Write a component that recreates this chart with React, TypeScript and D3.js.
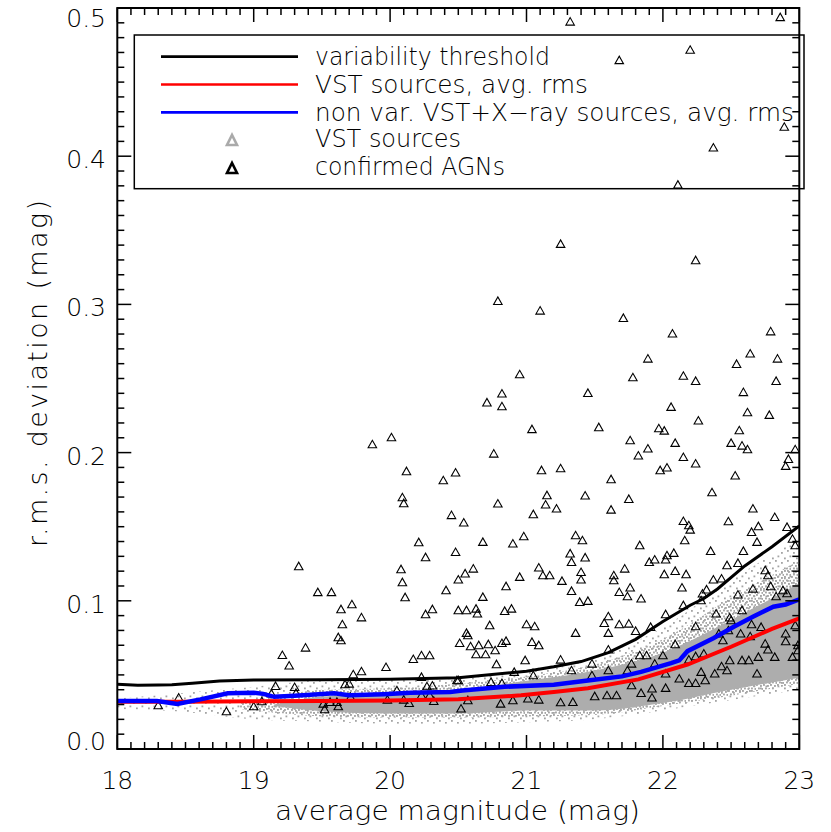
import React from 'react';
import * as d3 from 'd3';

const W = 831;
const H = 832;
const PLOT = { left: 117.3, right: 799.3, top: 8, bottom: 749 };

// ---------- axis ticks ----------
const xMajorTicks = [18, 19, 20, 21, 22, 23];
const xTickLabels = ['18', '19', '20', '21', '22', '23'];
const yMajorTicks = [0, 0.1, 0.2, 0.3, 0.4, 0.5];
const yTickLabels = ['0.0', '0.1', '0.2', '0.3', '0.4', '0.5'];

// ---------- curves ----------
const thresholdMag = [18.0, 18.15, 18.3, 18.4, 18.55, 18.75, 19.0, 19.5, 20.0, 20.5, 21.0, 21.2, 21.4, 21.6, 21.8, 22.0, 22.2, 22.3, 22.4, 22.6, 22.8, 23.0];
const thresholdRms = [0.0437, 0.0431, 0.0432, 0.0434, 0.0443, 0.0459, 0.0466, 0.0468, 0.047, 0.048, 0.0525, 0.0555, 0.059, 0.065, 0.074, 0.086, 0.097, 0.1015, 0.108, 0.1235, 0.1365, 0.1505];

const vstMag = [18.0, 18.5, 19.0, 19.5, 20.0, 20.5, 20.96, 21.2, 21.45, 21.82, 22.18, 22.5, 22.8, 23.0];
const vstRms = [0.0319, 0.0319, 0.0322, 0.0324, 0.0327, 0.0335, 0.0362, 0.0385, 0.041, 0.047, 0.057, 0.069, 0.081, 0.0882];

const nonVarMag = [18.0, 18.29, 18.44, 18.61, 18.81, 19.0, 19.07, 19.15, 19.3, 19.59, 19.7, 19.95, 20.15, 20.44, 20.53, 20.84, 21.2, 21.45, 21.7, 21.84, 22.06, 22.12, 22.18, 22.37, 22.52, 22.66, 22.81, 22.9, 23.0];
const nonVarRms = [0.0324, 0.0324, 0.0304, 0.0335, 0.0376, 0.038, 0.0372, 0.0352, 0.036, 0.0376, 0.0362, 0.037, 0.038, 0.0385, 0.0394, 0.042, 0.0433, 0.0462, 0.049, 0.052, 0.058, 0.0598, 0.066, 0.0747, 0.0825, 0.0893, 0.096, 0.0975, 0.101];

// ---------- VST source population (envelopes of the grey cloud) ----------
const cloudMag = [18.0, 18.5, 19.0, 19.3, 19.6, 20.0, 20.5, 21.0, 21.5, 22.0, 22.5, 23.0];
const cloudOuterLo = [0.027, 0.025, 0.02, 0.019, 0.018, 0.017, 0.017, 0.018, 0.02, 0.026, 0.033, 0.04];
const cloudOuterHi = [0.034, 0.038, 0.042, 0.045, 0.047, 0.047, 0.049, 0.054, 0.062, 0.082, 0.114, 0.142];
const cloudMidMag = [18.9, 19.2, 19.5, 20.0, 20.5, 21.0, 21.5, 22.0, 22.5, 23.0];
const cloudMidLo = [0.027, 0.024, 0.022, 0.021, 0.021, 0.022, 0.023, 0.029, 0.036, 0.044];
const cloudMidHi = [0.031, 0.036, 0.04, 0.041, 0.044, 0.049, 0.057, 0.074, 0.102, 0.127];
const cloudCoreMag = [19.15, 19.5, 20.0, 20.5, 21.0, 21.5, 22.0, 22.5, 23.0];
const cloudCoreLo = [0.029, 0.0255, 0.024, 0.024, 0.026, 0.026, 0.031, 0.04, 0.048];
const cloudCoreHi = [0.030, 0.0355, 0.037, 0.04, 0.046, 0.053, 0.065, 0.087, 0.112];

// ---------- confirmed AGNs [mag, rms] ----------
const agnHigh: [number, number][] = [
  [21.32, 0.491], [21.68, 0.465], [22.2, 0.472], [22.86, 0.494], [22.89, 0.42], [22.37, 0.406], [22.11, 0.381],
  [21.25, 0.341], [22.24, 0.33], [20.79, 0.3025], [21.1, 0.296], [21.71, 0.291], [22.07, 0.2805], [22.79, 0.282],
  [22.64, 0.267], [21.89, 0.2636], [22.84, 0.2636], [22.54, 0.26], [20.95, 0.253], [21.78, 0.251], [22.15, 0.252],
  [22.24, 0.2485], [22.83, 0.2485], [22.59, 0.241], [20.82, 0.24], [21.45, 0.2404], [20.71, 0.234], [20.82, 0.2314],
  [22.06, 0.231], [22.62, 0.2274], [22.78, 0.2256], [22.26, 0.2218], [21.04, 0.216], [21.53, 0.2173], [21.97, 0.2166],
  [22.01, 0.215], [22.56, 0.2152], [21.76, 0.2085], [22.09, 0.2067], [22.5, 0.2067], [22.58, 0.2049], [22.62, 0.2024],
  [22.97, 0.2024], [20.76, 0.1995], [21.89, 0.2029], [21.82, 0.1982], [22.15, 0.1972], [22.92, 0.1959], [22.24, 0.1928],
  [22.9, 0.1912], [20.48, 0.1867], [21.11, 0.1883], [21.25, 0.1896], [21.98, 0.1883], [22.03, 0.1901], [21.62, 0.1822],
  [22.53, 0.1847], [22.36, 0.1734], [21.15, 0.1714], [21.43, 0.1712], [21.75, 0.1689], [20.79, 0.1658], [21.14, 0.1651],
  [21.22, 0.1624], [21.62, 0.1617], [22.66, 0.1624],
];

const agnLeft: [number, number][] = [
  [18.3, 0.0297], [18.45, 0.0349], [18.8, 0.0256], [19.0, 0.029], [19.06, 0.0324], [19.21, 0.0636], [19.26, 0.0565],
  [19.38, 0.0686], [19.64, 0.0735], [19.13, 0.0376], [19.16, 0.0427], [19.3, 0.042], [19.31, 0.038], [19.51, 0.0308],
  [19.52, 0.027], [19.56, 0.0319], [19.61, 0.0319], [19.62, 0.029], [19.67, 0.0439], [19.7, 0.0443], [19.73, 0.0506],
  [19.79, 0.0526], [19.71, 0.0353], [19.97, 0.0555], [19.98, 0.0335], [20.05, 0.0398], [20.1, 0.0335], [20.14, 0.0312],
  [20.17, 0.0609], [20.23, 0.0634], [20.29, 0.0634], [20.23, 0.0488], [20.27, 0.0425], [20.31, 0.043], [20.29, 0.0364],
  [20.32, 0.0326], [20.23, 0.0364], [20.49, 0.0466], [20.52, 0.0275],
  [19.33, 0.1235], [19.47, 0.106], [19.57, 0.106], [19.64, 0.0945], [19.72, 0.0978], [19.65, 0.0843], [19.62, 0.0756],
  [19.79, 0.089], [19.87, 0.2058], [20.01, 0.2105], [20.12, 0.1876], [20.09, 0.17], [20.1, 0.166], [20.21, 0.1397],
  [20.26, 0.1296], [20.08, 0.1215], [20.09, 0.1127], [20.11, 0.1026], [20.31, 0.0945], [20.26, 0.0911], [20.41, 0.1073],
  [20.39, 0.1815], [20.45, 0.158],
];

const agnBand: [number, number][] = [
  [21.05, 0.1586], [20.54, 0.153], [22.82, 0.1567], [22.48, 0.1538], [22.15, 0.154], [22.19, 0.1511], [22.2, 0.1482],
  [22.7, 0.1505], [22.65, 0.1466], [22.91, 0.15], [20.68, 0.1399], [20.9, 0.1388], [20.98, 0.1437], [21.36, 0.1444],
  [21.41, 0.141], [21.83, 0.1377], [22.16, 0.141], [22.69, 0.1399], [22.35, 0.1338], [22.59, 0.1338], [21.32, 0.1321],
  [21.33, 0.1264], [21.43, 0.1294], [21.9, 0.1264], [21.94, 0.128], [22.02, 0.128], [22.03, 0.1309], [22.08, 0.1325],
  [22.47, 0.1242], [22.55, 0.1257], [20.48, 0.1331], [20.61, 0.1219], [20.55, 0.1186], [20.5, 0.1145], [21.09, 0.1226],
  [21.12, 0.1174], [21.17, 0.1174], [20.95, 0.1163], [21.26, 0.1136], [21.4, 0.1196], [21.4, 0.1145], [21.64, 0.1174],
  [21.64, 0.114], [21.72, 0.1219], [22.01, 0.1181], [22.09, 0.1203], [22.17, 0.1181], [22.37, 0.1145], [22.43, 0.1152],
  [22.75, 0.1208], [22.77, 0.1174], [20.85, 0.11], [20.68, 0.1028], [21.33, 0.1068], [21.68, 0.1061], [21.74, 0.1032],
  [21.76, 0.1091], [21.84, 0.1017], [22.14, 0.1091], [22.32, 0.1078], [22.29, 0.1051], [22.55, 0.1044], [22.66, 0.1084],
  [22.79, 0.11], [22.83, 0.1032], [22.88, 0.1073], [22.91, 0.1053], [21.39, 0.0994], [21.45, 0.1001], [20.5, 0.0938],
  [20.56, 0.0938], [20.64, 0.0916], [20.84, 0.0933], [20.89, 0.0949], [20.63, 0.0949], [22.15, 0.0972], [22.28, 0.1005],
  [22.39, 0.0916], [22.58, 0.0938], [22.02, 0.0911], [21.6, 0.0897], [21.57, 0.0852], [21.68, 0.0843], [21.75, 0.0848],
  [21.8, 0.0798], [21.91, 0.0825], [20.73, 0.0837], [21.0, 0.0843], [21.06, 0.083], [21.36, 0.0785], [21.6, 0.0785],
  [22.24, 0.083], [22.49, 0.0889], [22.5, 0.087], [22.65, 0.0843], [22.72, 0.0825], [20.56, 0.0785], [20.57, 0.0769],
  [20.51, 0.0717], [20.59, 0.0695], [20.65, 0.0702], [20.72, 0.0709], [20.7, 0.0641], [20.77, 0.0668], [20.82, 0.0717],
  [20.85, 0.0731], [20.63, 0.0641], [21.04, 0.0724], [21.09, 0.0702], [20.99, 0.0601], [20.78, 0.0574], [21.25, 0.0605],
  [21.6, 0.0673], [21.83, 0.0634], [21.88, 0.0634], [22.0, 0.0634], [22.09, 0.0709], [22.24, 0.0628], [22.41, 0.0781],
  [22.44, 0.0735], [22.48, 0.0803], [22.57, 0.0781], [22.64, 0.0762], [22.75, 0.0713], [22.77, 0.0673], [22.82, 0.0623],
  [22.9, 0.0781], [22.97, 0.0837], [22.7, 0.0623], [22.49, 0.0601], [22.58, 0.0601], [21.48, 0.0578], [21.77, 0.0578],
  [21.94, 0.0578], [22.3, 0.0646], [22.19, 0.0605], [21.33, 0.0533], [21.6, 0.0533], [21.74, 0.0533], [20.5, 0.0466],
  [20.74, 0.0454], [20.82, 0.0447], [20.91, 0.0522], [21.05, 0.0499], [21.48, 0.0499], [22.02, 0.0511], [22.12, 0.0477],
  [22.19, 0.0447], [22.24, 0.0447], [22.28, 0.0522], [22.31, 0.0466], [22.38, 0.0511], [22.43, 0.056], [22.47, 0.0533],
  [22.63, 0.0601], [22.69, 0.0511], [22.9, 0.0729], [22.99, 0.0702], [20.57, 0.0331], [20.81, 0.0308], [20.9, 0.0331],
  [21.01, 0.0342], [21.09, 0.0335], [21.25, 0.0317], [21.34, 0.0319], [21.5, 0.0358], [21.66, 0.0364], [21.84, 0.038],
  [21.92, 0.0349], [21.92, 0.041], [22.02, 0.0414], [21.59, 0.0364], [21.77, 0.0432], [22.95, 0.142], [22.97, 0.1377],
  [22.99, 0.0668], [22.95, 0.0623],
];

// ---------- legend ----------
const legendLines = [
  { label: 'variability threshold', color: '#000000', width: 235 },
  { label: 'VST sources, avg. rms', color: '#ff0000', width: 273 },
  { label: 'non var. VST+X\u2212ray sources, avg. rms', color: '#0000ff', width: 479 },
];
const legendMarks = [
  { label: 'VST sources', color: '#aaaaaa', width: 146 },
  { label: 'confirmed AGNs', color: '#000000', width: 190 },
];

const FONT = "'DejaVu Sans', 'Liberation Sans', sans-serif";
const FW = 200;

function tri(cx: number, cy: number, w: number, h: number) {
  return `M${cx - w / 2},${cy + h / 2}L${cx + w / 2},${cy + h / 2}L${cx},${cy - h / 2}Z`;
}

export default function App() {
  const x = d3.scaleLinear().domain([18, 23]).range([PLOT.left, PLOT.right]);
  const y = d3.scaleLinear().domain([0, 0.5]).range([PLOT.bottom, PLOT.top]);

  const line = d3
    .line<[number, number]>()
    .x((d) => x(d[0]))
    .y((d) => y(d[1]));

  type B = { m: number; lo: number; hi: number };
  const area = d3
    .area<B>()
    .x((d) => x(d.m))
    .y0((d) => y(d.lo))
    .y1((d) => y(d.hi))
    .curve(d3.curveMonotoneX);
  const band = (m: number[], lo: number[], hi: number[]) =>
    area(m.map((v, i) => ({ m: v, lo: lo[i], hi: hi[i] }))) || '';

  const xMinor = d3.range(0, 51).map((i) => 18 + i * 0.1);
  const yMinor = d3.range(0, 51).map((i) => i * 0.01);
  const MAJ = 14;
  const MIN = 7;

  const allAgn = [...agnHigh, ...agnLeft, ...agnBand];

  return (
    <svg
      width={W}
      height={H}
      viewBox={`0 0 ${W} ${H}`}
      style={{ position: 'absolute', left: 0, top: 0, background: '#fff' }}
      fontFamily={FONT}
      fontWeight={FW}
    >
      <defs>
        <clipPath id="plotclip">
          <rect x={PLOT.left} y={PLOT.top} width={PLOT.right - PLOT.left} height={PLOT.bottom - PLOT.top} />
        </clipPath>
        <pattern id="sparse" width="12" height="10" patternUnits="userSpaceOnUse">
          <rect x="1" y="2" width="1.8" height="1.8" fill="#a4a4a4" />
          <rect x="7" y="0" width="1.8" height="1.8" fill="#a4a4a4" />
          <rect x="9.5" y="5.5" width="1.8" height="1.8" fill="#a4a4a4" />
          <rect x="4" y="7.5" width="1.8" height="1.8" fill="#a4a4a4" />
        </pattern>
        <pattern id="mid" width="7" height="6" patternUnits="userSpaceOnUse">
          <rect x="0" y="0" width="1.9" height="1.9" fill="#a6a6a6" />
          <rect x="4" y="1" width="1.9" height="1.9" fill="#a6a6a6" />
          <rect x="2" y="3.5" width="1.9" height="1.9" fill="#a6a6a6" />
          <rect x="5.5" y="4" width="1.9" height="1.9" fill="#a6a6a6" />
        </pattern>
      </defs>

      <g clipPath="url(#plotclip)">
        <path d={band(cloudMag, cloudOuterLo, cloudOuterHi)} fill="url(#sparse)" />
        <path d={band(cloudMidMag, cloudMidLo, cloudMidHi)} fill="url(#mid)" />
        <path d={band(cloudCoreMag, cloudCoreLo, cloudCoreHi)} fill="#adadad" />

        {allAgn.map((d, i) => (
          <path key={i} d={tri(x(d[0]), y(d[1]), 8.5, 7.5)} fill="none" stroke="#000" strokeWidth={1.1} />
        ))}

        <path d={line(d3.zip(thresholdMag, thresholdRms) as [number, number][]) || ''} fill="none" stroke="#000" strokeWidth={3} />
        <path d={line(d3.zip(vstMag, vstRms) as [number, number][]) || ''} fill="none" stroke="#ff0000" strokeWidth={4} />
        <path d={line(d3.zip(nonVarMag, nonVarRms) as [number, number][]) || ''} fill="none" stroke="#0000ff" strokeWidth={4.5} />
      </g>

      {/* frame */}
      <rect
        x={PLOT.left}
        y={PLOT.top}
        width={PLOT.right - PLOT.left}
        height={PLOT.bottom - PLOT.top}
        fill="none"
        stroke="#000"
        strokeWidth={2}
      />

      {/* x ticks bottom & top */}
      {xMinor.map((v, i) => {
        const major = i % 10 === 0;
        const L = major ? MAJ : MIN;
        const px = x(v);
        return (
          <g key={'xt' + i}>
            <line x1={px} x2={px} y1={PLOT.bottom} y2={PLOT.bottom - L} stroke="#000" strokeWidth={1.5} />
            <line x1={px} x2={px} y1={PLOT.top} y2={PLOT.top + L} stroke="#000" strokeWidth={1.5} />
          </g>
        );
      })}
      {/* y ticks left & right */}
      {yMinor.map((v, i) => {
        const major = i % 10 === 0;
        const L = major ? MAJ : MIN;
        const py = y(v);
        return (
          <g key={'yt' + i}>
            <line x1={PLOT.left} x2={PLOT.left + L} y1={py} y2={py} stroke="#000" strokeWidth={1.5} />
            <line x1={PLOT.right} x2={PLOT.right - L} y1={py} y2={py} stroke="#000" strokeWidth={1.5} />
          </g>
        );
      })}

      {xMajorTicks.map((v, i) => (
        <text key={'xl' + i} x={x(v)} y={789} fontSize={25} textAnchor="middle" fill="#000">
          {xTickLabels[i]}
        </text>
      ))}
      {yMajorTicks.map((v, i) => {
        const off = i === 0 ? 1 : i === yMajorTicks.length - 1 ? 19 : 12;
        return (
          <text key={'yl' + i} x={106} y={y(v) + off} fontSize={25} textAnchor="end" fill="#000">
            {yTickLabels[i]}
          </text>
        );
      })}

      <text x={457.5} y={820} fontSize={27} textAnchor="middle" textLength={365} lengthAdjust="spacingAndGlyphs">
        average magnitude (mag)
      </text>
      <text
        transform="translate(47,373.5) rotate(-90)"
        x={0}
        y={0}
        fontSize={27}
        textAnchor="middle"
        textLength={347}
        lengthAdjust="spacing"
      >
        r.m.s. deviation (mag)
      </text>

      {/* legend */}
      <rect x={134.3} y={35} width={804 - 134.3} height={188.7 - 35} fill="none" stroke="#000" strokeWidth={1.5} />
      {legendLines.map((d, i) => {
        const ly = 56.7 + i * 27.8;
        return (
          <g key={'ll' + i}>
            <line x1={161} x2={298} y1={ly} y2={ly} stroke={d.color} strokeWidth={2.7} />
            <text x={315} y={ly + 8.3} fontSize={24} textLength={d.width} lengthAdjust="spacingAndGlyphs">
              {d.label}
            </text>
          </g>
        );
      })}
      {legendMarks.map((d, i) => {
        const ly = 140 + i * 28;
        return (
          <g key={'lm' + i}>
            <path d={tri(232, ly, 10, 10)} fill="none" stroke={d.color} strokeWidth={2.6} />
            <text x={315} y={ly + 7} fontSize={24} textLength={d.width} lengthAdjust="spacingAndGlyphs">
              {d.label}
            </text>
          </g>
        );
      })}
    </svg>
  );
}
